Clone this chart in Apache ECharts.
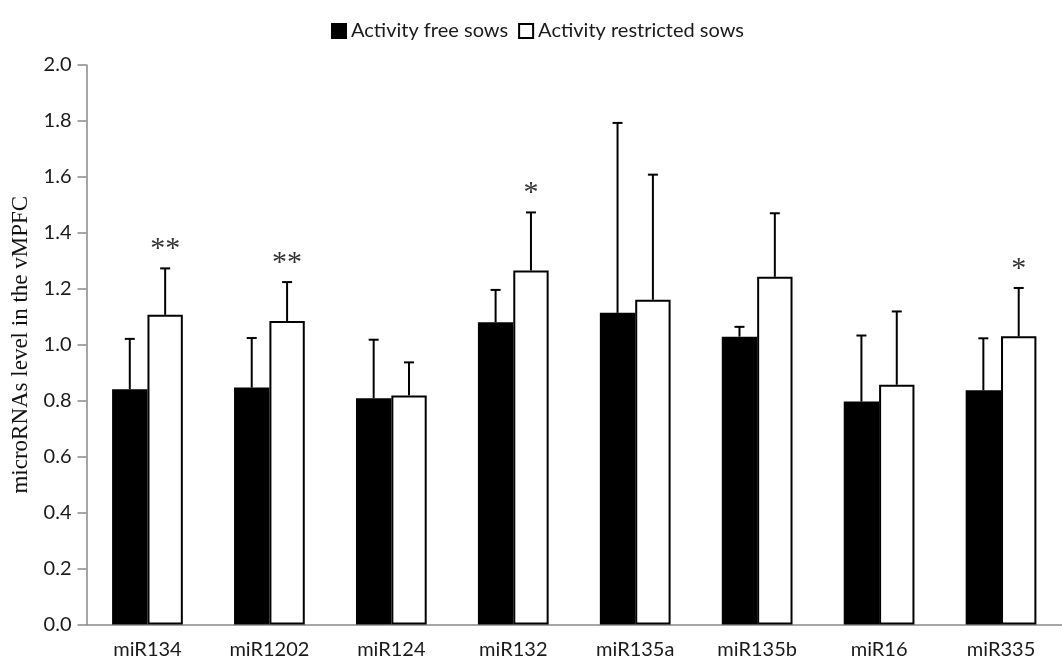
<!DOCTYPE html>
<html>
<head>
<meta charset="utf-8">
<script src="https://cdn.jsdelivr.net/npm/echarts@6/dist/echarts.min.js"></script>
<style>html,body{margin:0;padding:0;background:#fff;}#chart{width:1062px;height:662px;}</style>
</head>
<body>
<div id="chart"></div>
<script>
const categories = ['miR134', 'miR1202', 'miR124', 'miR132', 'miR135a', 'miR135b', 'miR16', 'miR335'];
const freeMeans = [0.841, 0.847, 0.809, 1.080, 1.114, 1.029, 0.797, 0.837];
const freeErrors = [0.180, 0.177, 0.209, 0.116, 0.679, 0.035, 0.236, 0.186];
const restrictedMeans = [1.107, 1.085, 0.819, 1.265, 1.161, 1.243, 0.857, 1.030];
const restrictedErrors = [0.166, 0.139, 0.118, 0.208, 0.447, 0.227, 0.262, 0.173];
const significance = ['**', '**', '', '*', '', '', '', '*'];
const yTicks = [0, 0.2, 0.4, 0.6, 0.8, 1.0, 1.2, 1.4, 1.6, 1.8, 2.0];

const BAR_FRAC = 0.29;
const chart = echarts.init(document.getElementById('chart'));

function errorRender(sign) {
  return function (params, api) {
    const idx = api.value(0), val = api.value(1), err = api.value(2);
    const cx0 = api.coord([idx, 0])[0];
    const band = api.size([1, 0])[0];
    const cx = cx0 + sign * band * BAR_FRAC / 2;
    const base = api.coord([idx, val])[1];
    const top = api.coord([idx, val + err])[1];
    const st = { stroke: '#000', lineWidth: 2 };
    return {
      type: 'group',
      children: [
        { type: 'line', shape: { x1: cx, y1: base, x2: cx, y2: top }, style: st },
        { type: 'line', shape: { x1: cx - 5, y1: top, x2: cx + 5, y2: top }, style: st }
      ]
    };
  };
}

function sigRender(params, api) {
  const idx = api.value(0), val = api.value(1), err = api.value(2);
  const txt = significance[idx];
  if (!txt) return null;
  const cx0 = api.coord([idx, 0])[0];
  const band = api.size([1, 0])[0];
  const cx = cx0 + band * BAR_FRAC / 2;
  const top = api.coord([idx, val + err])[1];
  return {
    type: 'text',
    style: {
      x: cx, y: top - 19, text: txt, align: 'center', verticalAlign: 'middle',
      font: '30px "Liberation Serif"', fill: '#333'
    }
  };
}

const labelFont = 'Lato';
chart.setOption({
  animation: false,
  backgroundColor: '#fff',
  legend: {
    left: 326, top: 16,
    itemWidth: 14, itemHeight: 14, itemGap: 10,
    icon: 'rect',
    textStyle: { fontFamily: labelFont, fontSize: 20, color: '#1a1a1a', padding: [0, 0, 0, 0] },
    data: ['Activity free sows', 'Activity restricted sows']
  },
  grid: { left: 86.5, top: 65, width: 986.6, height: 559.5, containLabel: false },
  xAxis: {
    type: 'category',
    data: categories,
    axisLine: { lineStyle: { color: '#898989', width: 1.5 } },
    axisTick: { length: 9, lineStyle: { color: '#898989', width: 1.5 } },
    axisLabel: { fontFamily: labelFont, fontSize: 20, color: '#1a1a1a', margin: 15 }
  },
  yAxis: {
    type: 'value', min: 0, max: 2.0, interval: 0.2,
    name: 'microRNAs level in the vMPFC',
    nameLocation: 'middle', nameGap: 42,
    nameTextStyle: { fontFamily: 'Liberation Serif', fontSize: 23, color: '#111' },
    axisLine: { show: true, lineStyle: { color: '#898989', width: 1.5 } },
    axisTick: { show: true, length: 9, lineStyle: { color: '#898989', width: 1.5 } },
    splitLine: { show: false },
    axisLabel: {
      fontFamily: labelFont, fontSize: 20, color: '#1a1a1a', margin: 15,
      formatter: v => {
        const t = yTicks.find(x => Math.abs(x - v) < 1e-6);
        return (t !== undefined ? t : v).toFixed(1);
      }
    }
  },
  series: [
    {
      name: 'Activity free sows', type: 'bar', data: freeMeans,
      barWidth: (BAR_FRAC * 100) + '%', barGap: '0%',
      itemStyle: { color: '#000', borderColor: '#000', borderWidth: 1.5 }
    },
    {
      name: 'Activity restricted sows', type: 'bar', data: restrictedMeans,
      barWidth: (BAR_FRAC * 100) + '%', barGap: '0%',
      itemStyle: { color: '#fff', borderColor: '#000', borderWidth: 2 }
    },
    {
      type: 'custom', renderItem: errorRender(-1), z: 5,
      data: freeMeans.map((v, i) => [i, v, freeErrors[i]])
    },
    {
      type: 'custom', renderItem: errorRender(1), z: 5,
      data: restrictedMeans.map((v, i) => [i, v, restrictedErrors[i]])
    },
    {
      type: 'custom', renderItem: sigRender, z: 6,
      data: restrictedMeans.map((v, i) => [i, v, restrictedErrors[i]])
    }
  ]
});
</script>
</body>
</html>
